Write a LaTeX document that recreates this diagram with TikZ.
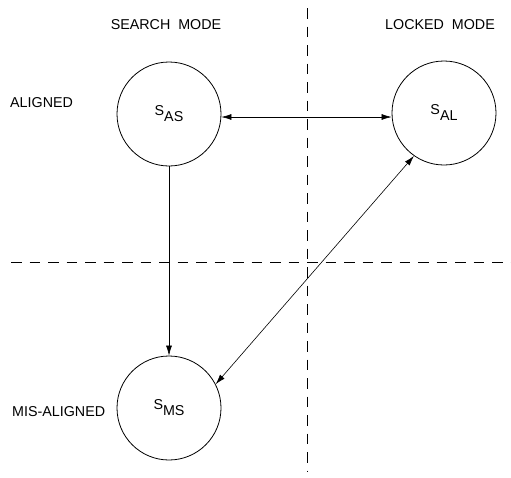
\documentclass[tikz,border=0pt]{standalone}
\usepackage{fontspec}
\setmainfont{Liberation Sans}
\usetikzlibrary{arrows.meta}
\begin{document}
\begin{tikzpicture}[x=1pt,y=-1pt,
  state/.style={draw,circle,minimum size=104pt,inner sep=0pt,line width=0.8pt},
  lbl/.style={font=\fontsize{14.3}{16}\selectfont,inner sep=0pt},
  divider/.style={dashed,dash pattern=on 10.5pt off 8pt,line width=0.8pt},
  conn/.style={line width=0.6pt,-{Latex[length=10pt,width=6pt]}},
  conn2/.style={line width=0.6pt,{Latex[length=10pt,width=6pt]}-{Latex[length=10pt,width=6pt]}}]
\useasboundingbox (0,0) rectangle (511,477);
\node[state] (sas) at (169,114) {};
\node[lbl] at (sas.center) {S\raisebox{-0.42em}{AS}};
\node[state] (sal) at (444,113) {};
\node[lbl] at (sal.center) {S\raisebox{-0.42em}{AL}};
\node[state] (sms) at (169,408) {};
\node[lbl] at (sms.center) {S\raisebox{-0.42em}{MS}};
\node[lbl] (search) at (166,25) {SEARCH\ \ MODE};
\node[lbl] (locked) at (440,25) {LOCKED\ \ MODE};
\node[lbl,anchor=west] (aligned) at (10,103) {ALIGNED};
\node[lbl,anchor=west] (misaligned) at (12,412) {MIS-ALIGNED};
\coordinate (hl) at (11,262);
\coordinate (hr) at (511,262);
\coordinate (vt) at (307,8);
\coordinate (vb) at (307,472);
\draw[divider] (hl) -- (hr);
\draw[divider] (vt) -- (vb);
\draw[conn2] (sas.east |- 0,117) -- (sal.west |- 0,117);
\draw[conn] (sas) -- (sms);
\draw[conn2] (sms.27) -- (sal.235);
\end{tikzpicture}
\end{document}
